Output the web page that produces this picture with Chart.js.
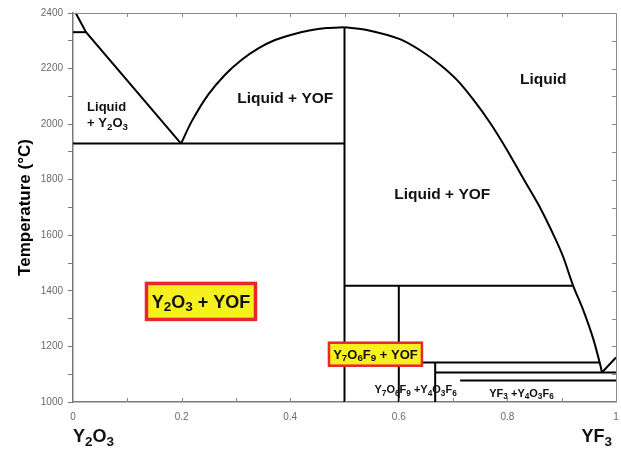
<!DOCTYPE html>
<html>
<head>
<meta charset="utf-8">
<script src="https://cdn.jsdelivr.net/npm/chart.js@4.4.1/dist/chart.umd.min.js"></script>
<style>
  html, body { margin: 0; padding: 0; background: #ffffff; }
  #wrap { width: 621px; height: 450px; }
</style>
</head>
<body>
<div id="wrap"><canvas id="c" width="621" height="450"></canvas></div>
<script>
// ---------- data (composition x = mole fraction YF3, temperature in °C) ----------
const xTickLabels = ['0', '0.2', '0.4', '0.6', '0.8', '1'];
const yTickLabels = ['1000', '1200', '1400', '1600', '1800', '2000', '2200', '2400'];

const liquidusY2O3 = [[0.005, 2400], [0.024, 2331], [0.199, 1930]];
const transitionY2O3 = [[0, 2331], [0.024, 2331]];
const eutecticLeft = [[0, 1930], [0.5, 1930]];
const liquidusYOFLeft = [[0.199, 1930], [0.2186, 2010], [0.249, 2106], [0.28, 2178], [0.3107, 2232],
  [0.3413, 2273], [0.372, 2303], [0.4027, 2322], [0.435, 2337], [0.467, 2346], [0.5, 2349]];
const compoundYOF = [[0.5, 2349], [0.5, 1000]];
const liquidusYOFRight = [[0.5, 2349], [0.541, 2339], [0.602, 2306], [0.64, 2265], [0.676, 2214],
  [0.7066, 2160], [0.7373, 2088], [0.768, 2005], [0.7987, 1909], [0.829, 1805], [0.86, 1700],
  [0.8877, 1590], [0.903, 1521], [0.921, 1419], [0.94, 1329], [0.958, 1228], [0.972, 1126], [0.974, 1106]];
const peritectic = [[0.5, 1418], [0.921, 1418]];
const compoundY7O6F9 = [[0.6, 1418], [0.6, 1000]];
const transition1142 = [[0.6, 1142], [0.97, 1142]];
const compoundY4O3F6 = [[0.667, 1142], [0.667, 1000]];
const eutecticRight = [[0.667, 1106], [1, 1106]];
const transition1077 = [[0.713, 1077], [1, 1077]];
const liquidusYF3 = [[0.974, 1106], [1, 1160]];

const phaseLines = [liquidusY2O3, transitionY2O3, eutecticLeft, liquidusYOFLeft, compoundYOF,
  liquidusYOFRight, peritectic, compoundY7O6F9, transition1142, compoundY4O3F6,
  eutecticRight, transition1077, liquidusYF3];
const curvedLines = [liquidusYOFLeft, liquidusYOFRight];

// region labels: text ({} = subscript), anchor in data coords (baseline)
const regionLabels = [
  { text: 'Liquid', x: 0.026, t: 2049, size: 13, align: 'left' },
  { text: '+ Y{2}O{3}', x: 0.026, t: 1988, size: 13, align: 'left' },
  { text: 'Liquid + YOF', x: 0.391, t: 2076, size: 15.5, align: 'center' },
  { text: 'Liquid', x: 0.866, t: 2144, size: 15.5, align: 'center' },
  { text: 'Liquid + YOF', x: 0.68, t: 1730, size: 15.5, align: 'center' },
  { text: 'Y{7}O{6}F{9} +Y{4}O{3}F{6}', x: 0.631, t: 1031, size: 11, align: 'center' },
  { text: 'YF{3} +Y{4}O{3}F{6}', x: 0.826, t: 1019, size: 11, align: 'center' }
];
// boxed labels: centre in data coords
const boxLabels = [
  { text: 'Y{2}O{3} + YOF', x: 0.2357, t: 1362, size: 18, w: 109, h: 36, border: 3.5 },
  { text: 'Y{7}O{6}F{9} + YOF', x: 0.557, t: 1172, size: 13, w: 93, h: 23, border: 2.5 }
];
const axisEndLabels = [
  { text: 'Y{2}O{3}', x: 0, align: 'left' },
  { text: 'YF{3}', x: 1, align: 'right' }
];

const FONT = '"Liberation Sans", Arial, Helvetica, sans-serif';

function drawRich(ctx, str, x, y, size, align) {
  const parts = [];
  const re = /\{([^}]*)\}|([^{]+)/g;
  let m;
  while ((m = re.exec(str)) !== null) {
    if (m[1] !== undefined) parts.push({ s: m[1], sub: true });
    else parts.push({ s: m[2], sub: false });
  }
  const mainFont = 'bold ' + size + 'px ' + FONT;
  const subFont = 'bold ' + (size * 0.75) + 'px ' + FONT;
  let total = 0;
  parts.forEach(p => {
    ctx.font = p.sub ? subFont : mainFont;
    p.w = ctx.measureText(p.s).width;
    total += p.w;
  });
  let cx = x;
  if (align === 'center') cx = x - total / 2;
  else if (align === 'right') cx = x - total;
  ctx.textAlign = 'left';
  ctx.textBaseline = 'alphabetic';
  parts.forEach(p => {
    ctx.font = p.sub ? subFont : mainFont;
    ctx.fillText(p.s, cx, p.sub ? y + size * 0.2 : y);
    cx += p.w;
  });
}

const decorPlugin = {
  id: 'decor',
  afterDatasetsDraw(chart) {
    const { ctx, chartArea } = chart;
    const { left, right, top, bottom } = chartArea;
    const xs = chart.scales.x, ys = chart.scales.y;
    ctx.save();
    // top and right frame with inward ticks
    ctx.strokeStyle = '#8a8a8a';
    ctx.lineWidth = 1;
    ctx.beginPath();
    ctx.moveTo(left, top + 0.5);
    ctx.lineTo(right + 0.5, top + 0.5);
    ctx.lineTo(right + 0.5, bottom);
    xs.ticks.forEach(tk => {
      const px = Math.round(xs.getPixelForValue(tk.value)) + 0.5;
      if (px > left + 1 && px < right - 1) {
        ctx.moveTo(px, top); ctx.lineTo(px, top + 4);
        ctx.moveTo(px, bottom); ctx.lineTo(px, bottom - 4);
      }
    });
    ys.ticks.forEach(tk => {
      const py = Math.round(ys.getPixelForValue(tk.value)) + 0.5;
      if (py > top + 1 && py < bottom - 1) {
        ctx.moveTo(right, py); ctx.lineTo(right - 4, py);
      }
    });
    ctx.stroke();

    // region labels
    ctx.fillStyle = '#111111';
    regionLabels.forEach(l => {
      drawRich(ctx, l.text, xs.getPixelForValue(l.x), ys.getPixelForValue(l.t), l.size, l.align);
    });
    // boxed labels
    boxLabels.forEach(b => {
      const cx = xs.getPixelForValue(b.x), cy = ys.getPixelForValue(b.t);
      ctx.fillStyle = '#F5F01E';
      ctx.fillRect(cx - b.w / 2, cy - b.h / 2, b.w, b.h);
      ctx.strokeStyle = '#E8262B';
      ctx.lineWidth = b.border;
      ctx.strokeRect(cx - b.w / 2, cy - b.h / 2, b.w, b.h);
      ctx.fillStyle = '#111111';
      drawRich(ctx, b.text, cx, cy + b.size * 0.36, b.size, 'center');
    });
    // component labels under the axis
    ctx.fillStyle = '#111111';
    axisEndLabels.forEach(a => {
      let px = xs.getPixelForValue(a.x);
      if (a.align === 'right') px -= 4;
      drawRich(ctx, a.text, px, 442, 18, a.align);
    });
    ctx.restore();
  }
};

const datasets = phaseLines.map(line => ({
  data: line.map(p => ({ x: p[0], y: p[1] })),
  showLine: true,
  borderColor: '#000000',
  borderWidth: 2,
  pointRadius: 0,
  pointHoverRadius: 0,
  fill: false,
  clip: false,
  tension: curvedLines.includes(line) ? 0.3 : 0
}));

new Chart(document.getElementById('c'), {
  type: 'scatter',
  data: { datasets },
  options: {
    responsive: false,
    animation: false,
    devicePixelRatio: 1,
    layout: { padding: { top: 13, right: 5, left: 0, bottom: 0 } },
    plugins: { legend: { display: false }, tooltip: { enabled: false } },
    scales: {
      x: {
        type: 'linear', min: 0, max: 1,
        afterFit(s) { s.height = 48; s.paddingLeft = 0; s.paddingRight = 0; },
        grid: { display: false, drawOnChartArea: false, drawTicks: false },
        border: { display: true, color: '#7a7a7a', width: 1.5 },
        ticks: {
          stepSize: 0.1, autoSkip: false, maxRotation: 0, padding: 9,
          color: '#6a6a6a', font: { family: FONT, size: 10 },
          callback(v) {
            const lab = String(Math.round(v * 10) / 10);
            return xTickLabels.includes(lab) ? lab : '';
          }
        }
      },
      y: {
        type: 'linear', min: 1000, max: 2400,
        afterFit(s) { s.width = 73; s.paddingTop = 0; s.paddingBottom = 0; },
        grid: { display: true, drawOnChartArea: false, drawTicks: true, tickLength: 5, color: '#7a7a7a', lineWidth: 1 },
        border: { display: true, color: '#7a7a7a', width: 1.5 },
        ticks: {
          stepSize: 100, autoSkip: false, padding: 5,
          color: '#6a6a6a', font: { family: FONT, size: 10 },
          callback(v) {
            const lab = String(Math.round(v));
            return yTickLabels.includes(lab) ? lab : '';
          }
        },
        title: {
          display: true, text: 'Temperature (°C)', color: '#000000',
          font: { family: FONT, size: 17, weight: 'bold' },
          padding: { top: 15, bottom: 0 }
        }
      }
    }
  },
  plugins: [decorPlugin]
});
</script>
</body>
</html>
